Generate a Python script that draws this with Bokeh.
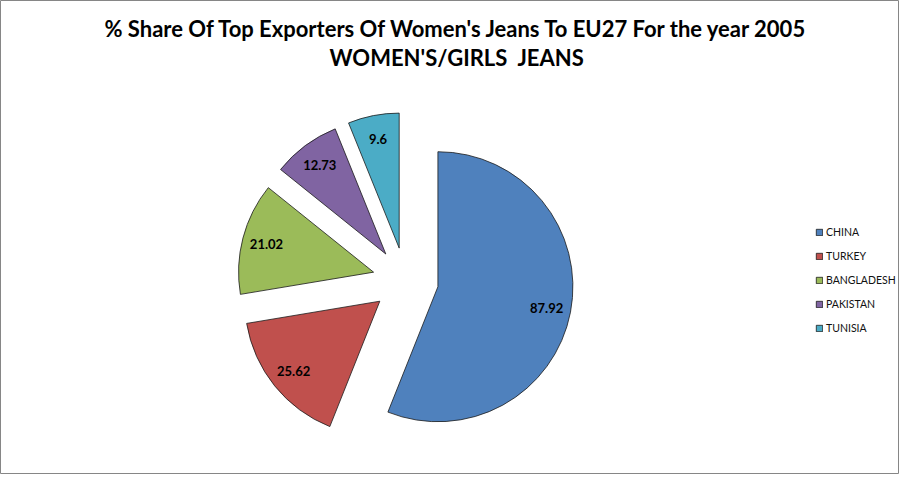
import numpy as np
from bokeh.plotting import figure
from bokeh.models import ColumnDataSource, Legend, LegendItem, Range1d
from bokeh.core.properties import value
from bokeh.embed import file_html
from bokeh.resources import INLINE

countries = ["CHINA", "TURKEY", "BANGLADESH", "PAKISTAN", "TUNISIA"]
shares = [87.92, 25.62, 21.02, 12.73, 9.6]
labels = ["87.92", "25.62", "21.02", "12.73", "9.6"]
colors = ["#4F81BD", "#C0504D", "#9BBB59", "#8064A2", "#4BACC6"]
title_lines = ["% Share Of Top Exporters Of Women's Jeans To EU27 For the year 2005",
               "WOMEN'S/GIRLS\u00a0 JEANS"]

W, H = 899, 474
cx, cy = 405, H - 280   # pie centre (screen px, y up)
R = 135                 # pie radius
EXPLODE = 33            # explode distance
LABEL_FRAC = 0.82

vals = np.array(shares, dtype=float)
frac = vals / vals.sum()
cum = np.concatenate([[0.0], np.cumsum(frac)]) * 2 * np.pi  # clockwise from 12 o'clock
theta1 = cum[:-1]
theta2 = cum[1:]
mid = (theta1 + theta2) / 2
start = np.pi / 2 - theta2
end = np.pi / 2 - theta1
dx = np.sin(mid)
dy = np.cos(mid)
xs = cx + EXPLODE * dx
ys = cy + EXPLODE * dy
lx = xs + LABEL_FRAC * R * dx
ly = ys + LABEL_FRAC * R * dy

src = ColumnDataSource(dict(x=xs, y=ys, start=start, end=end, color=colors,
                            country=countries, lx=lx, ly=ly, label=labels))

p = figure(width=W, height=H, output_backend="svg", toolbar_location=None,
           x_range=Range1d(0, W), y_range=Range1d(0, H), min_border=0)
p.axis.visible = False
p.grid.visible = False
p.outline_line_color = "#868686"
p.outline_line_width = 1
p.background_fill_color = "white"

wr = p.wedge(x="x", y="y", radius=R, start_angle="start", end_angle="end",
             fill_color="color", line_color="#1a1a1a", line_width=0.8, source=src)

p.text(x="lx", y="ly", text="label", source=src, text_align="center",
       text_baseline="middle", text_font=value("Lato"), text_font_style="bold",
       text_font_size="13px", text_color="black")

p.text(x=[456.5, 456.5], y=[H - 28, H - 57], text=title_lines,
       text_align="center", text_baseline="middle", text_font=value("Lato"),
       text_font_style="bold", text_font_size="22px", text_color="black")

items = [LegendItem(label=c, renderers=[wr], index=i) for i, c in enumerate(countries)]
legend = Legend(items=items, location=(815, 134), orientation="vertical",
                glyph_width=8, glyph_height=8, label_height=24, spacing=0,
                padding=0, margin=0, label_standoff=3,
                label_text_font="Lato", label_text_font_size="10.5px",
                label_text_color="#111111", border_line_color=None,
                background_fill_alpha=0)
p.add_layout(legend)

open("out.html", "w").write(file_html(p, INLINE))
